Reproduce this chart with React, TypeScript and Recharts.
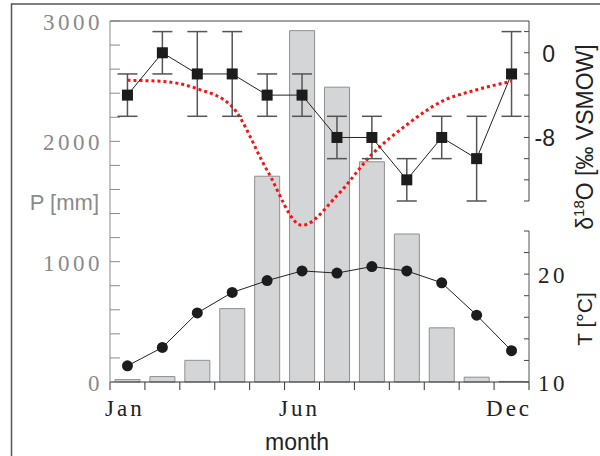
import { Bar, ComposedChart, ErrorBar, Line, ReferenceLine, XAxis, YAxis } from 'recharts';

const months = ['Jan', 'Feb', 'Mar', 'Apr', 'May', 'Jun', 'Jul', 'Aug', 'Sep', 'Oct', 'Nov', 'Dec'];
const precip = [20, 45, 180, 610, 1710, 2920, 2450, 1830, 1230, 450, 40, 5];
const d18o = [-4, 0, -2, -2, -4, -4, -8, -8, -12, -8, -10, -2];
const d18oErr = [2, 2, 4, 4, 2, 2, 2, 2, 2, 2, 4, 4];
const temp = [11.5, 13.2, 16.4, 18.3, 19.4, 20.3, 20.1, 20.7, 20.3, 19.2, 16.2, 12.9];
const model = [-2.6, -2.7, -3.4, -5.1, -11.1, -16.3, -13.5, -9.6, -6.8, -4.6, -3.5, -2.7];

const pTicks = [0, 200, 400, 600, 800, 1000, 1200, 1400, 1600, 1800, 2000, 2200, 2400, 2600, 2800, 3000];
const pLabels = [0, 1000, 2000, 3000];
const dTicks = [2, 0, -2, -4, -6, -8, -10, -12, -14];
const dLabels = [0, -8];
const tTicks = [10, 12, 14, 16, 18, 20, 22, 24];
const tLabels = [10, 20];
const xLabels = ['Jan', 'Jun', 'Dec'];

const rows = months.map((month, i) => ({
  month,
  p: precip[i],
  d18o: d18o[i],
  err: d18oErr[i],
  t: temp[i],
  model: model[i],
}));

const W = 600;
const H = 456;
const PLOT_LEFT = 110;
const PLOT_RIGHT = 529;
const BAND = (PLOT_RIGHT - PLOT_LEFT) / months.length;

const SERIF = '"Liberation Serif", "Times New Roman", serif';
const SANS = '"Liberation Sans", Arial, sans-serif';
const GREY = '#8a8a8a';
const INK = '#222';

function PTick({ x, y, payload }: any) {
  return (
    <g>
      <line x1={x} x2={x + 10} y1={y} y2={y} stroke={GREY} />
      {pLabels.includes(payload.value) && (
        <text x={x - 7} y={y + 9} textAnchor="end" fontFamily={SERIF} fontSize={23} letterSpacing={3.5} fill={GREY}>
          {payload.value}
        </text>
      )}
    </g>
  );
}

function DTick({ x, y, payload }: any) {
  return (
    <g>
      <line x1={x - 5} x2={x} y1={y} y2={y} stroke="#444" />
      {dLabels.includes(payload.value) && (
        <text x={x + 26} y={y + 9} textAnchor="end" fontFamily={SANS} fontSize={23} fill={INK}>
          {payload.value}
        </text>
      )}
    </g>
  );
}

function TTick({ x, y, payload }: any) {
  return (
    <g>
      <line x1={x - 5} x2={x} y1={y} y2={y} stroke="#444" />
      {tLabels.includes(payload.value) && (
        <text x={x + 9} y={y + 9} textAnchor="start" fontFamily={SERIF} fontSize={23} letterSpacing={3.5} fill={INK}>
          {payload.value}
        </text>
      )}
    </g>
  );
}

function XTick({ x, y, payload, index }: any) {
  return (
    <g>
      <line x1={x - BAND / 2} x2={x - BAND / 2} y1={y} y2={y + 8} stroke="#333" />
      {index === months.length - 1 && <line x1={x + BAND / 2} x2={x + BAND / 2} y1={y} y2={y + 8} stroke="#333" />}
      {xLabels.includes(payload.value) && (
        <text x={x - 2.5} y={y + 34} textAnchor="middle" fontFamily={SERIF} fontSize={23} letterSpacing={3} fill={INK}>
          {payload.value}
        </text>
      )}
    </g>
  );
}

function SquareDot(props: any) {
  const { cx, cy, index } = props;
  return <rect key={`sq-${index}`} x={cx - 5.5} y={cy - 5.5} width={11} height={11} fill="#1c1c1c" />;
}

function RoundDot(props: any) {
  const { cx, cy, index } = props;
  return <circle key={`c-${index}`} cx={cx} cy={cy} r={5.5} fill="#1c1c1c" />;
}

const layer = { position: 'absolute' as const, left: 0, top: 0 };

export default function App() {
  return (
    <div style={{ position: 'relative', width: W, height: H, background: '#fff' }}>
      <style>{'body{margin:0}'}</style>

      {/* precipitation bars, month axis, model curve */}
      <div style={layer}>
        <ComposedChart width={W} height={H} data={rows} margin={{ top: 21, right: W - PLOT_RIGHT, bottom: 34, left: PLOT_LEFT - 60 }}>
          <XAxis
            dataKey="month"
            scale="band"
            height={40}
            interval={0}
            tickSize={0}
            tickMargin={0}
            tickLine={false}
            axisLine={{ stroke: '#333' }}
            tick={(p: any) => <XTick {...p} />}
          />
          <YAxis
            yAxisId="p"
            width={60}
            domain={[0, 3000]}
            ticks={pTicks}
            interval={0}
            tickSize={0}
            tickMargin={0}
            tickLine={false}
            axisLine={{ stroke: GREY }}
            tick={(p: any) => <PTick {...p} />}
          />
          <YAxis yAxisId="m" orientation="right" hide domain={[-31.1, 3]} />
          <ReferenceLine yAxisId="p" y={3000} stroke="#444" />
          <Bar yAxisId="p" dataKey="p" barSize={25} fill="#d4d5d7" stroke="#8f8f8f" strokeWidth={1} isAnimationActive={false} />
          <Line
            yAxisId="m"
            dataKey="model"
            type="monotone"
            stroke="#ff1010"
            strokeWidth={3}
            strokeDasharray="3 3"
            dot={false}
            isAnimationActive={false}
          />
        </ComposedChart>
      </div>

      {/* δ18O with error bars */}
      <div style={layer}>
        <ComposedChart width={W} height={H} data={rows} margin={{ top: 21, right: W - PLOT_RIGHT - 60, bottom: H - 201, left: PLOT_LEFT }}>
          <XAxis dataKey="month" scale="band" hide />
          <YAxis
            yAxisId="d"
            orientation="right"
            width={60}
            domain={[-14, 3]}
            ticks={dTicks}
            interval={0}
            tickSize={0}
            tickMargin={0}
            tickLine={false}
            axisLine={{ stroke: '#444' }}
            tick={(p: any) => <DTick {...p} />}
          />
          <Line yAxisId="d" dataKey="d18o" stroke={INK} strokeWidth={1} dot={SquareDot} isAnimationActive={false}>
            <ErrorBar dataKey="err" direction="y" width={10} stroke="#555" strokeWidth={1.5} isAnimationActive={false} />
          </Line>
        </ComposedChart>
      </div>

      {/* temperature */}
      <div style={layer}>
        <ComposedChart width={W} height={H} data={rows} margin={{ top: 231, right: W - PLOT_RIGHT - 60, bottom: H - 382, left: PLOT_LEFT }}>
          <XAxis dataKey="month" scale="band" hide />
          <YAxis
            yAxisId="t"
            orientation="right"
            width={60}
            domain={[10, 24]}
            ticks={tTicks}
            interval={0}
            tickSize={0}
            tickMargin={0}
            tickLine={false}
            axisLine={{ stroke: '#555' }}
            tick={(p: any) => <TTick {...p} />}
          />
          <Line yAxisId="t" dataKey="t" stroke={INK} strokeWidth={1} dot={RoundDot} isAnimationActive={false} />
        </ComposedChart>
      </div>

      {/* frame and axis titles */}
      <svg width={W} height={H} style={{ ...layer, pointerEvents: 'none' }}>
        <path d={`M11.5,${H} V4 H${W}`} fill="none" stroke="#555" strokeWidth={1.5} />
        <text x={99} y={210} textAnchor="end" fontFamily={SANS} fontSize={22} fill={GREY}>
          P [mm]
        </text>
        <text x={593} y={137} transform="rotate(-90 593 137)" textAnchor="middle" fontFamily={SANS} fontSize={23} fill={INK}>
          δ<tspan fontSize={15} dy={-9}>18</tspan>
          <tspan dy={9}>O [‰ VSMOW]</tspan>
        </text>
        <text x={592} y={319} transform="rotate(-90 592 319)" textAnchor="middle" fontFamily={SANS} fontSize={21} fill={INK}>
          T [°C]
        </text>
        <text x={297} y={450} textAnchor="middle" fontFamily={SANS} fontSize={23} fill={INK}>
          month
        </text>
      </svg>
    </div>
  );
}
